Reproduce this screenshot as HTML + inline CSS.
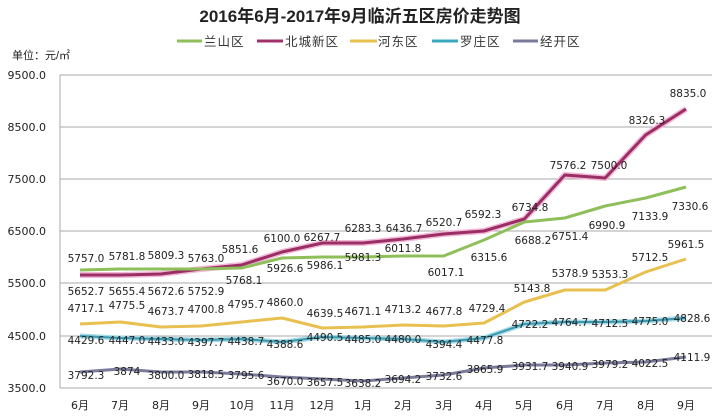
<!DOCTYPE html>
<html><head><meta charset="utf-8"><style>
body{margin:0;background:#fff;}
svg{display:block;}
text{font-family:"DejaVu Sans","Liberation Sans","Noto Sans CJK SC",sans-serif;fill:#222;}
.l{font-size:10.5px;text-anchor:middle;}
.ax{font-size:11px;text-anchor:end;fill:#333;}
.cj{font-family:"Liberation Sans","Noto Sans CJK SC",sans-serif;}
.lg{font-family:"Liberation Sans","Noto Sans CJK SC",sans-serif;font-size:12.5px;letter-spacing:1px;fill:#333;}
</style></head><body>
<svg width="720" height="420" viewBox="0 0 720 420" xmlns="http://www.w3.org/2000/svg">
<text x="360" y="22" class="cj" style="font-size:17px;font-weight:bold;text-anchor:middle;fill:#222">2016年6月-2017年9月临沂五区房价走势图</text>
<line x1="177" y1="41" x2="202" y2="41" stroke="#8fbf5a" stroke-width="3"/><text x="204" y="46" class="lg">兰山区</text>
<line x1="257" y1="41" x2="283" y2="41" stroke="#a0306a" stroke-width="3"/><text x="285" y="46" class="lg">北城新区</text>
<line x1="350" y1="41" x2="377" y2="41" stroke="#e8c050" stroke-width="3"/><text x="378" y="46" class="lg">河东区</text>
<line x1="432" y1="41" x2="458" y2="41" stroke="#3aa8c0" stroke-width="3"/><text x="460" y="46" class="lg">罗庄区</text>
<line x1="513" y1="41" x2="538" y2="41" stroke="#7a7a9a" stroke-width="3"/><text x="540" y="46" class="lg">经开区</text>
<text x="12" y="59" class="cj" style="font-size:11px">单位：元/㎡</text>
<g stroke="#aaa" stroke-width="1">
<line x1="60" y1="75" x2="712" y2="75"/><line x1="60" y1="127" x2="712" y2="127"/><line x1="60" y1="179" x2="712" y2="179"/><line x1="60" y1="231" x2="712" y2="231"/><line x1="60" y1="283" x2="712" y2="283"/><line x1="60" y1="336" x2="712" y2="336"/><line x1="60" y1="388" x2="712" y2="388"/><line x1="60" y1="75" x2="60" y2="388"/>
</g>
<g class="ax">
<text x="46" y="79">9500.0</text><text x="46" y="131">8500.0</text><text x="46" y="183">7500.0</text><text x="46" y="235">6500.0</text><text x="46" y="287">5500.0</text><text x="46" y="340">4500.0</text><text x="46" y="392">3500.0</text>
</g>
<g class="cj" style="font-size:11px">
<text x="80" y="409" text-anchor="middle">6月</text><text x="120" y="409" text-anchor="middle">7月</text><text x="161" y="409" text-anchor="middle">8月</text><text x="201" y="409" text-anchor="middle">9月</text><text x="242" y="409" text-anchor="middle">10月</text><text x="282" y="409" text-anchor="middle">11月</text><text x="322" y="409" text-anchor="middle">12月</text><text x="363" y="409" text-anchor="middle">1月</text><text x="403" y="409" text-anchor="middle">2月</text><text x="444" y="409" text-anchor="middle">3月</text><text x="484" y="409" text-anchor="middle">4月</text><text x="524" y="409" text-anchor="middle">5月</text><text x="565" y="409" text-anchor="middle">6月</text><text x="605" y="409" text-anchor="middle">7月</text><text x="646" y="409" text-anchor="middle">8月</text><text x="686" y="409" text-anchor="middle">9月</text>
</g>
<g fill="none" stroke-linejoin="round">
<polyline stroke="#f4b8d8" stroke-width="6" points="80,275 120.4,275 160.8,274 201.2,269 241.6,265 282,252 322.4,243 362.8,243 403.2,239 443.6,234 484,231 524.4,219 564.8,175 605.2,178 645.6,135 686,109"/>
<polyline stroke="#9a2f65" stroke-width="3" points="80,275 120.4,275 160.8,274 201.2,269 241.6,265 282,252 322.4,243 362.8,243 403.2,239 443.6,234 484,231 524.4,219 564.8,175 605.2,178 645.6,135 686,109"/>
<polyline stroke="#8fbf5a" stroke-width="3" points="80,270 120.4,269 160.8,269 201.2,269 241.6,268 282,258 322.4,257 362.8,257 403.2,256 443.6,256 484,240 524.4,222 564.8,218 605.2,206 645.6,198 686,187"/>
<polyline stroke="#e8c050" stroke-width="3" points="80,324 120.4,322 160.8,327 201.2,326 241.6,322 282,318 322.4,328 362.8,327 403.2,325 443.6,326 484,323 524.4,302 564.8,290 605.2,290 645.6,272 686,259"/>
<polyline stroke="#a8dde8" stroke-width="5" points="80,336 120.4,338 160.8,339 201.2,340 241.6,339 282,342 322.4,337 362.8,338 403.2,339 443.6,342 484,338 524.4,324 564.8,322 605.2,322 645.6,321 686,318"/>
<polyline stroke="#3a98b0" stroke-width="2" points="80,336 120.4,338 160.8,339 201.2,340 241.6,339 282,342 322.4,337 362.8,338 403.2,339 443.6,342 484,338 524.4,324 564.8,322 605.2,322 645.6,321 686,318"/>
<polyline stroke="#7a7a9a" stroke-width="3" points="80,372 120.4,369 160.8,372 201.2,372 241.6,374 282,377 322.4,379 362.8,381 403.2,378 443.6,375 484,368 524.4,365 564.8,365 605.2,363 645.6,362 686,357"/>
</g>
<g class="l">
<text x="86" y="262">5757.0</text><text x="127" y="260">5781.8</text><text x="166" y="259">5809.3</text><text x="206" y="262">5763.0</text><text x="244" y="284">5768.1</text><text x="285" y="272">5926.6</text><text x="325" y="269">5986.1</text><text x="363" y="261">5981.3</text><text x="403" y="252">6011.8</text><text x="446" y="276">6017.1</text><text x="489" y="261">6315.6</text><text x="533" y="244">6688.2</text><text x="570" y="240">6751.4</text><text x="607" y="229">6990.9</text><text x="650" y="220">7133.9</text><text x="690" y="210">7330.6</text>
<text x="86" y="295">5652.7</text><text x="127" y="295">5655.4</text><text x="166" y="295">5672.6</text><text x="206" y="295">5752.9</text><text x="240" y="253">5851.6</text><text x="282" y="242">6100.0</text><text x="322" y="241">6267.7</text><text x="363" y="232">6283.3</text><text x="404" y="232">6436.7</text><text x="444" y="226">6520.7</text><text x="483" y="218">6592.3</text><text x="530" y="211">6734.8</text><text x="568" y="169">7576.2</text><text x="609" y="169">7500.0</text><text x="647" y="124">8326.3</text><text x="688" y="97">8835.0</text>
<text x="86" y="312">4717.1</text><text x="127" y="309">4775.5</text><text x="166" y="315">4673.7</text><text x="206" y="313">4700.8</text><text x="246" y="308">4795.7</text><text x="285" y="306">4860.0</text><text x="325" y="317">4639.5</text><text x="363" y="315">4671.1</text><text x="403" y="313">4713.2</text><text x="444" y="315">4677.8</text><text x="487" y="312">4729.4</text><text x="532" y="292">5143.8</text><text x="570" y="277">5378.9</text><text x="610" y="278">5353.3</text><text x="650" y="261">5712.5</text><text x="686" y="248">5961.5</text>
<text x="86" y="344">4429.6</text><text x="127" y="344">4447.0</text><text x="166" y="345">4433.0</text><text x="206" y="346">4397.7</text><text x="246" y="345">4438.7</text><text x="285" y="348">4388.6</text><text x="325" y="341">4490.5</text><text x="363" y="343">4485.0</text><text x="403" y="343">4480.0</text><text x="444" y="348">4394.4</text><text x="485" y="344">4477.8</text><text x="530" y="328">4722.2</text><text x="570" y="326">4764.7</text><text x="610" y="327">4712.5</text><text x="650" y="325">4775.0</text><text x="692" y="322">4828.6</text>
<text x="86" y="379">3792.3</text><text x="127" y="375">3874</text><text x="166" y="379">3800.0</text><text x="206" y="378">3818.5</text><text x="246" y="379">3795.6</text><text x="285" y="385">3670.0</text><text x="325" y="386">3657.5</text><text x="363" y="387">3638.2</text><text x="403" y="383">3694.2</text><text x="444" y="380">3732.6</text><text x="485" y="373">3865.9</text><text x="530" y="370">3931.7</text><text x="570" y="370">3940.9</text><text x="610" y="368">3979.2</text><text x="650" y="367">4022.5</text><text x="692" y="361">4111.9</text>
</g>
</svg>
</body></html>
